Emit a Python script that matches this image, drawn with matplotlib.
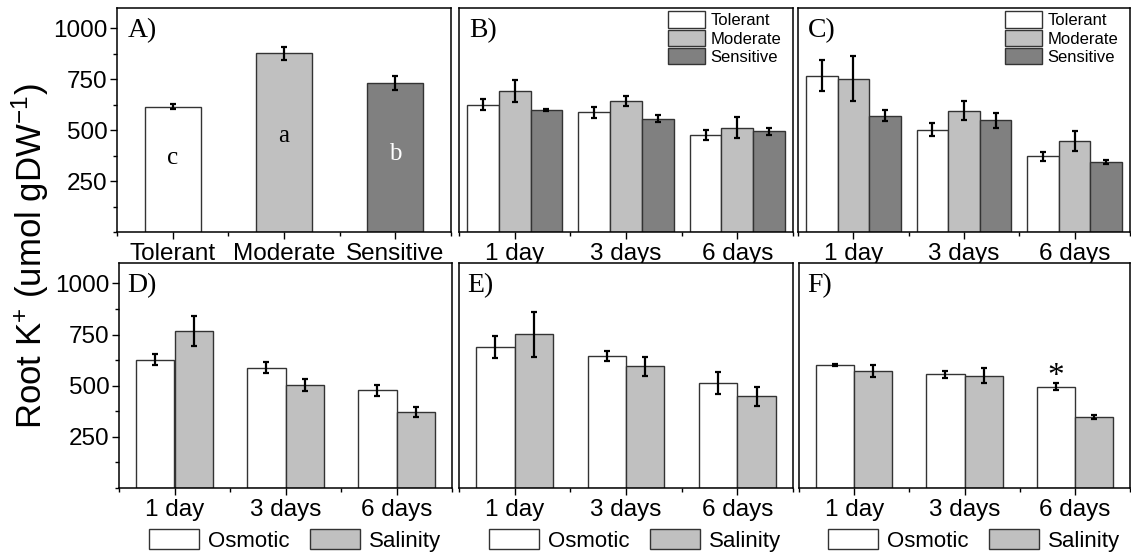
import numpy as np
import matplotlib
matplotlib.use('Agg')
import matplotlib.pyplot as plt
from matplotlib.ticker import MultipleLocator, FixedLocator

plt.rcParams['font.family'] = ['Liberation Sans', 'DejaVu Sans']
plt.rcParams['mathtext.fontset'] = 'custom'
plt.rcParams['mathtext.rm'] = 'Liberation Sans'
plt.rcParams['mathtext.it'] = 'Liberation Sans:italic'
plt.rcParams['mathtext.bf'] = 'Liberation Sans:bold'

# 데이터
genotypes = ['Tolerant', 'Moderate', 'Sensitive']
days = ['1 day', '3 days', '6 days']
treatments = ['Osmotic', 'Salinity']

overall_mean = [615, 877, 732]
overall_err = [12, 32, 36]
overall_letters = ['c', 'a', 'b']

osmotic_tol = [626, 587, 477]
osmotic_tol_err = [27, 27, 25]
osmotic_mod = [691, 644, 513]
osmotic_mod_err = [53, 25, 52]
osmotic_sen = [601, 557, 495]
osmotic_sen_err = [5, 17, 17]

salinity_tol = [768, 503, 371]
salinity_tol_err = [75, 30, 23]
salinity_mod = [752, 596, 448]
salinity_mod_err = [110, 46, 48]
salinity_sen = [572, 549, 345]
salinity_sen_err = [29, 36, 10]

geno_colors = ['white', '#c0c0c0', '#808080']
treat_colors = ['white', '#c0c0c0']
edge = '#333333'
err_kw = dict(ecolor='black', elinewidth=1.6, capsize=2, capthick=1.6)

W, H = 1131, 554
fig = plt.figure(figsize=(W / 100, H / 100), dpi=100)


def make_ax(x0, x1, ytop, ybot):
    return fig.add_axes([x0 / W, (H - ybot) / H, (x1 - x0) / W, (ybot - ytop) / H])


axA = make_ax(117, 451, 8, 232)
axB = make_ax(459, 793, 8, 232)
axC = make_ax(798, 1130, 8, 232)
axD = make_ax(119, 452, 263, 488)
axE = make_ax(459, 793, 263, 488)
axF = make_ax(799, 1130, 263, 488)

x = np.arange(1, 4)


def style(ax, labels, show_y):
    ax.set_xlim(0.5, 3.5)
    ax.set_ylim(0, 1100)
    ax.set_xticks(x)
    ax.set_xticklabels(labels, fontsize=17.5)
    ax.xaxis.set_minor_locator(FixedLocator([0.5, 1.5, 2.5, 3.5]))
    ax.tick_params(axis='x', which='major', direction='out', length=5, width=1, pad=3)
    ax.tick_params(axis='x', which='minor', direction='out', length=3, width=1)
    for s in ax.spines.values():
        s.set_linewidth(1.1)
    if show_y:
        ax.set_yticks([250, 500, 750, 1000])
        ax.yaxis.set_minor_locator(MultipleLocator(125))
        ax.tick_params(axis='y', which='major', direction='out', length=5, width=1,
                       labelsize=17.5, pad=2)
        ax.tick_params(axis='y', which='minor', direction='out', length=3, width=1)
    else:
        ax.set_yticks([])
        ax.yaxis.set_minor_locator(FixedLocator([]))


def panel_label(ax, txt, dx):
    ax.text(dx, 0.955, txt, transform=ax.transAxes, ha='left', va='top',
            fontsize=20, family='Liberation Serif')


# A) 전체 평균
axA.bar(x, overall_mean, width=0.5, color=geno_colors, edgecolor=edge, linewidth=1,
        yerr=overall_err, error_kw=err_kw)
letter_y = [333, 443, 353]
for xi, lt, ly, c in zip(x, overall_letters, letter_y, ['black', 'black', 'white']):
    axA.text(xi, ly, lt, ha='center', va='baseline', fontsize=18,
             family='Liberation Serif', color=c)
style(axA, genotypes, True)
panel_label(axA, 'A)', 0.033)

# B) 삼투, C) 염분 - 유전형별
w3 = 0.285
osm = [(osmotic_tol, osmotic_tol_err), (osmotic_mod, osmotic_mod_err), (osmotic_sen, osmotic_sen_err)]
sal = [(salinity_tol, salinity_tol_err), (salinity_mod, salinity_mod_err), (salinity_sen, salinity_sen_err)]
for ax, series, lab in [(axB, osm, 'B)'), (axC, sal, 'C)')]:
    for i, (vals, errs) in enumerate(series):
        ax.bar(x + (i - 1) * w3, vals, width=w3, color=geno_colors[i], edgecolor=edge,
               linewidth=1, yerr=errs, error_kw=err_kw, label=genotypes[i])
    style(ax, days, False)
    panel_label(ax, lab, 0.03)
    ax.legend(loc='upper right', bbox_to_anchor=(0.965, 0.985), frameon=False,
              fontsize=12, handlelength=2.2, handleheight=1.15, labelspacing=0.08,
              handletextpad=0.35, borderpad=0, borderaxespad=0)

# D), E), F) 삼투 vs 염분
w2 = 0.345
pairs = [(axD, osmotic_tol, osmotic_tol_err, salinity_tol, salinity_tol_err, 'D)', 0.026),
         (axE, osmotic_mod, osmotic_mod_err, salinity_mod, salinity_mod_err, 'E)', 0.024),
         (axF, osmotic_sen, osmotic_sen_err, salinity_sen, salinity_sen_err, 'F)', 0.024)]
for k, (ax, o, oe, s, se, lab, dx) in enumerate(pairs):
    ax.bar(x - w2 / 2, o, width=w2, color=treat_colors[0], edgecolor=edge, linewidth=1,
           yerr=oe, error_kw=err_kw, label=treatments[0])
    ax.bar(x + w2 / 2, s, width=w2, color=treat_colors[1], edgecolor=edge, linewidth=1,
           yerr=se, error_kw=err_kw, label=treatments[1])
    style(ax, days, k == 0)
    panel_label(ax, lab, dx)
    ax.legend(loc='center', bbox_to_anchor=(0.528, -0.232), ncol=2, frameon=False,
              fontsize=16, handlelength=2.25, handleheight=1.05, handletextpad=0.42,
              columnspacing=0.9, borderpad=0, borderaxespad=0)

# F) 유의성 표시
axF.text(3 - w2 / 2, 545, '*', ha='center', va='center', fontsize=24,
         family='Liberation Serif')

fig.text(30 / W, (H - 256) / H, 'Root K$^{+}$ (umol gDW$^{-1}$)', rotation=90,
         ha='center', va='center', fontsize=25)

fig.savefig('out.png', dpi=100)
